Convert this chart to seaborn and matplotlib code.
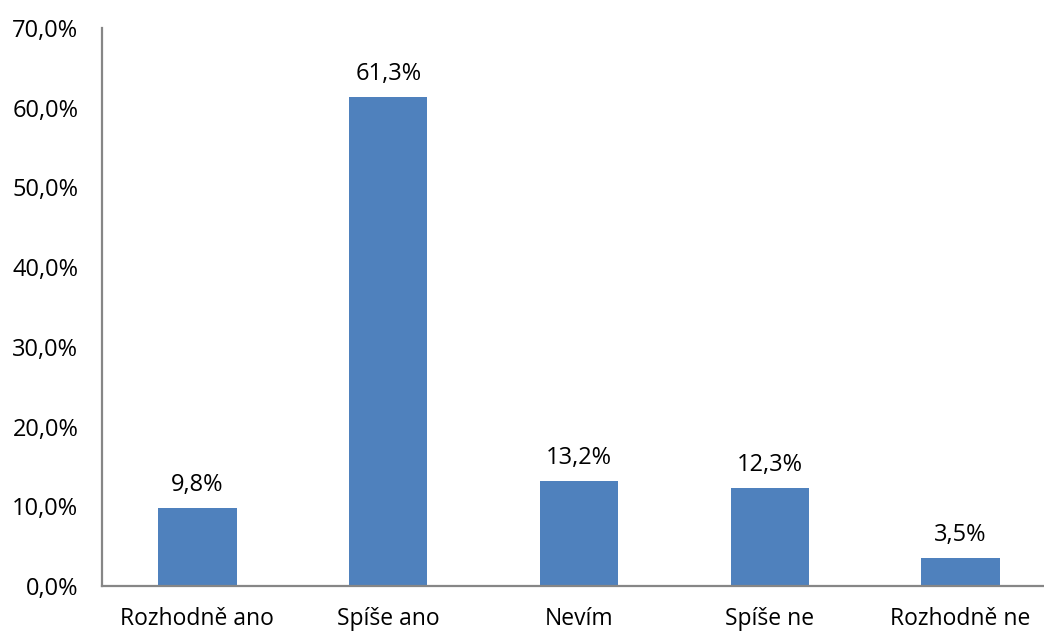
import matplotlib
matplotlib.use("Agg")
import matplotlib.pyplot as plt
import seaborn as sns
import pandas as pd

categories = ["Rozhodně ano", "Spíše ano", "Nevím", "Spíše ne", "Rozhodně ne"]
values = [9.8, 61.3, 13.2, 12.3, 3.5]
yticks = [0, 10, 20, 30, 40, 50, 60, 70]

sns.set_theme(style="white")
plt.rcParams['font.family'] = ['Open Sans', 'DejaVu Sans']
plt.rcParams['text.color'] = 'black'
plt.rcParams['xtick.color'] = 'black'
plt.rcParams['ytick.color'] = 'black'

df = pd.DataFrame({"cat": categories, "val": values})

fig = plt.figure(figsize=(10.44, 6.33), dpi=100)
ax = fig.add_axes([102/1044, (633-586)/633, 954/1044, 558/633])
sns.barplot(data=df, x="cat", y="val", color="#4F81BD", width=0.41,
            saturation=1, linewidth=0, ax=ax)

ax.set_ylim(0, 70)
ax.set_yticks(yticks)
ax.set_yticklabels([f"{t:.1f}%".replace(".", ",") for t in yticks], fontsize=17)
ax.set_xticks(range(len(categories)))
ax.set_xticklabels(categories, fontsize=16.5)
ax.tick_params(axis="both", length=0)
ax.tick_params(axis="y", pad=17)
ax.tick_params(axis="x", pad=15)
ax.set_xlabel("")
ax.set_ylabel("")
for s in ["top", "right"]:
    ax.spines[s].set_visible(False)
for s in ["left", "bottom"]:
    ax.spines[s].set_color("#868686")
    ax.spines[s].set_linewidth(1.6)

for i, v in enumerate(values):
    ax.annotate(f"{v:.1f}%".replace(".", ","), (i, v), xytext=(0, 8),
                textcoords="offset points", ha="center", va="bottom", fontsize=17)

fig.savefig("out.png", dpi=100)
